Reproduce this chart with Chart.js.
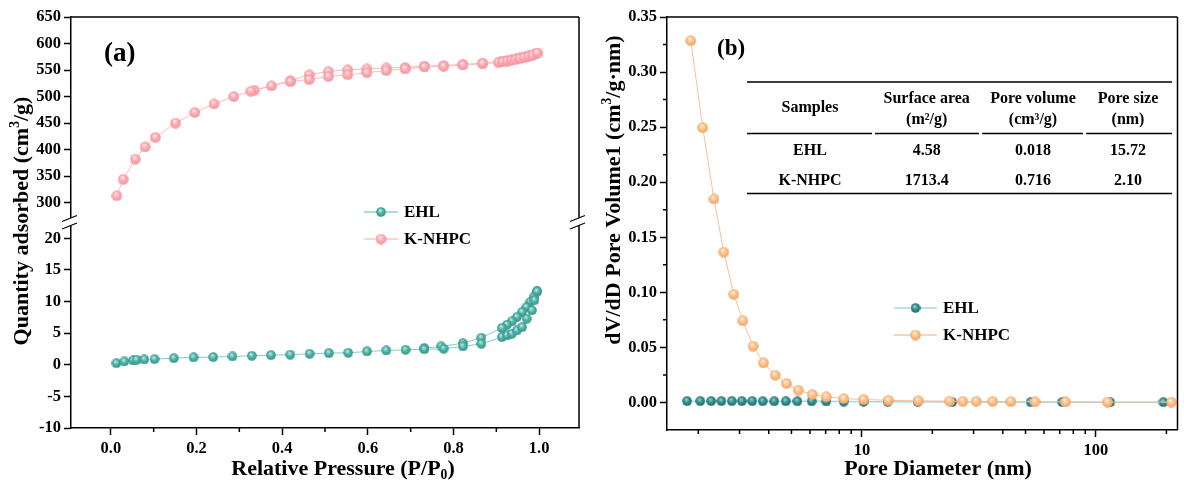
<!DOCTYPE html>
<html>
<head>
<meta charset="utf-8">
<script src="https://cdn.jsdelivr.net/npm/chart.js@4.4.1/dist/chart.umd.min.js"></script>
<style>
html, body { margin: 0; padding: 0; background: #fff; }
#wrap { position: relative; width: 1184px; height: 482px; overflow: hidden; background: #fff; }
canvas { position: absolute; top: 0; }
#chartA { left: 0; }
#chartB { left: 590px; }
</style>
</head>
<body>
<div id="wrap">
  <canvas id="chartA" width="590" height="482"></canvas>
  <canvas id="chartB" width="594" height="482"></canvas>
</div>
<script>
const FONT = '"Liberation Serif", "Times New Roman", serif';

// (a) N2 adsorption-desorption isotherms
const ehlAdsP = [0.013, 0.0315, 0.052, 0.06, 0.078, 0.102, 0.147, 0.193, 0.239, 0.284, 0.329, 0.374, 0.419, 0.464, 0.509, 0.554, 0.598, 0.643, 0.688, 0.732, 0.777, 0.822, 0.865, 0.913, 0.925, 0.936, 0.948, 0.96, 0.971, 0.983, 0.989, 0.995];
const ehlAdsQ = [0.25, 0.52, 0.68, 0.79, 0.84, 0.89, 1.04, 1.16, 1.2, 1.31, 1.42, 1.52, 1.6, 1.74, 1.84, 1.9, 2.1, 2.26, 2.37, 2.45, 2.53, 2.9, 3.32, 4.37, 4.64, 4.9, 5.43, 5.95, 7.28, 8.6, 10.2, 11.6];
const ehlDesP = [0.995, 0.989, 0.979, 0.97, 0.96, 0.948, 0.936, 0.925, 0.913, 0.865, 0.822, 0.771, 0.732];
const ehlDesQ = [11.6, 10.85, 9.9, 9.1, 8.32, 7.53, 6.85, 6.33, 5.8, 4.27, 3.42, 2.9, 2.63];

const knhpcAdsP = [0.014, 0.029, 0.057, 0.080, 0.104, 0.151, 0.196, 0.241, 0.287, 0.327, 0.375, 0.419, 0.463, 0.508, 0.553, 0.598, 0.643, 0.687, 0.732, 0.777, 0.822, 0.868, 0.905, 0.915, 0.925, 0.935, 0.945, 0.955, 0.965, 0.975, 0.985, 0.995];
const knhpcAdsQ = [313, 344, 382, 405, 423, 450, 470, 486, 500, 510, 520, 528, 532, 538, 541, 545, 549, 552, 556, 557, 559.5, 562, 564.5, 566, 567, 568.5, 570, 571.5, 573.5, 575.5, 578, 582];
const knhpcDesP = [0.995, 0.985, 0.975, 0.965, 0.955, 0.945, 0.935, 0.925, 0.91, 0.868, 0.822, 0.777, 0.732, 0.687, 0.643, 0.598, 0.553, 0.508, 0.463, 0.419, 0.335];
const knhpcDesQ = [582, 579, 577, 575, 573, 571, 569.5, 568, 566, 563, 560.5, 558.5, 557.5, 555, 554, 552, 550.5, 547.3, 541, 530, 512];

// (b) pore size distribution
const ehlPoreD = [1.79, 2.04, 2.27, 2.51, 2.78, 3.07, 3.40, 3.77, 4.22, 4.73, 5.30, 6.10, 7.04, 8.36, 10.17, 12.9, 17.3, 24.3, 52.6, 71.7, 115, 194];
const ehlPoreV = [0.0012, 0.0012, 0.0012, 0.0012, 0.0012, 0.0012, 0.0012, 0.0011, 0.0011, 0.0011, 0.001, 0.001, 0.0009, 0.0008, 0.0007, 0.0006, 0.0005, 0.0004, 0.0003, 0.0003, 0.0002, 0.0002];
const knhpcPoreD = [1.858, 2.089, 2.333, 2.57, 2.836, 3.097, 3.427, 3.80, 4.263, 4.76, 5.35, 6.14, 7.04, 8.36, 10.17, 12.98, 17.4, 23.7, 27.0, 30.8, 36.2, 43.3, 54.9, 74.1, 112, 210];
const knhpcPoreV = [0.3285, 0.2496, 0.1848, 0.1366, 0.0982, 0.0742, 0.0512, 0.036, 0.0248, 0.0173, 0.0112, 0.0073, 0.0051, 0.0036, 0.0027, 0.002, 0.0015, 0.0012, 0.001, 0.001, 0.001, 0.0008, 0.0006, 0.0005, 0.0004, 0.0003];

// ticks
const xTicksA = [0, 0.2, 0.4, 0.6, 0.8, 1.0];
const xMinorA = [0.1, 0.3, 0.5, 0.7, 0.9];
const yTopTicks = [300, 350, 400, 450, 500, 550, 600, 650];
const yBotTicks = [-10, -5, 0, 5, 10, 15, 20];
const xMajorB = [10, 100];
const xMinorB = [2, 3, 4, 5, 6, 7, 8, 9, 20, 30, 40, 50, 60, 70, 80, 90, 200];
const yTicksB = [0, 0.05, 0.10, 0.15, 0.20, 0.25, 0.30, 0.35];
const yMinorB = [0.025, 0.075, 0.125, 0.175, 0.225, 0.275, 0.325];

// table in (b)
const tableHead = [['Samples'], ['Surface area', '(m\u00b2/g)'], ['Pore volume', '(cm\u00b3/g)'], ['Pore size', '(nm)']];
const tableRows = [['EHL', '4.58', '0.018', '15.72'], ['K-NHPC', '1713.4', '0.716', '2.10']];

const pts = (xs, ys) => xs.map((x, i) => ({ x: x, y: ys[i] }));

function ball(d, light, base, dark) {
    const c = document.createElement('canvas');
    c.width = d; c.height = d;
    const g = c.getContext('2d');
    const r = d / 2;
    const grad = g.createRadialGradient(r * 0.8, r * 0.6, 0, r, r, r);
    grad.addColorStop(0, light);
    grad.addColorStop(0.5, base);
    grad.addColorStop(1, dark);
    g.fillStyle = grad;
    g.beginPath();
    g.arc(r, r, r - 0.2, 0, Math.PI * 2);
    g.fill();
    return c;
}

const ballEhlA = ball(10, '#d4f2ee', '#52b6aa', '#2e8f84');
const ballKnA = ball(11, '#fff2f3', '#ffadb4', '#f3939d');
const ballEhlB = ball(10, '#a8dcda', '#36928f', '#1a6b6b');
const ballKnB = ball(11, '#fff4e8', '#ffc38f', '#f0a362');

const tickFont = { family: FONT, size: 16.5, weight: 'bold' };

function richText(ctx, parts, cx, cy, size) {
    const widths = parts.map(p => {
        ctx.font = 'bold ' + (p[1] ? size * 0.62 : size) + 'px ' + FONT;
        return ctx.measureText(p[0]).width;
    });
    let x = cx - widths.reduce((a, b) => a + b, 0) / 2;
    ctx.textBaseline = 'middle';
    ctx.textAlign = 'left';
    parts.forEach((p, i) => {
        ctx.font = 'bold ' + (p[1] ? size * 0.62 : size) + 'px ' + FONT;
        const dy = p[1] === 1 ? -size * 0.3 : (p[1] === -1 ? size * 0.3 : 0);
        ctx.fillText(p[0], x, cy + dy);
        x += widths[i];
    });
}

function legendRow(ctx, x0, x1, y, lineColor, img, label) {
    ctx.strokeStyle = lineColor;
    ctx.lineWidth = 1.5;
    ctx.beginPath();
    ctx.moveTo(x0, y); ctx.lineTo(x1, y);
    ctx.stroke();
    ctx.drawImage(img, (x0 + x1) / 2 - img.width / 2, y - img.height / 2);
    ctx.fillStyle = '#000';
    ctx.font = 'bold 17px ' + FONT;
    ctx.textAlign = 'left';
    ctx.textBaseline = 'middle';
    ctx.fillText(label, x1 + 6, y + 1);
}

function axisStyle(extra) {
    return Object.assign({
        grid: { drawOnChartArea: false, tickLength: 7, tickColor: '#000', tickWidth: 1.5 },
        border: { color: '#000', width: 1.5 },
    }, extra);
}

//panel (a) decorations: frame, break marks, minor ticks, titles, legend
const decorA = {
    id: 'decorA',
    afterDraw(chart) {
        const ctx = chart.ctx;
        const a = chart.chartArea;
        const sx = chart.scales.x;
        const yb = chart.scales.yTop.bottom;
        ctx.save();
        ctx.strokeStyle = '#000';
        ctx.lineWidth = 1.5;
        ctx.beginPath();
        ctx.moveTo(a.left, a.top); ctx.lineTo(a.right, a.top);
        ctx.moveTo(a.right, a.top); ctx.lineTo(a.right, a.bottom);
        ctx.stroke();
        xMinorA.forEach(v => {
            const px = sx.getPixelForValue(v);
            ctx.beginPath();
            ctx.moveTo(px, a.bottom); ctx.lineTo(px, a.bottom + 4);
            ctx.stroke();
        });
        // axis break
        ctx.fillStyle = '#fff';
        [a.left, a.right].forEach(x => {
            ctx.fillRect(x - 2, yb - 4.6, 4, 7.5);
        });
        ctx.lineWidth = 1.2;
        [a.left, a.right].forEach(x => {
            ctx.beginPath();
            ctx.moveTo(x - 9, yb - 1); ctx.lineTo(x + 6, yb - 7);
            ctx.moveTo(x - 9, yb + 6.5); ctx.lineTo(x + 6, yb + 0.5);
            ctx.stroke();
        });
        ctx.fillStyle = '#000';
        richText(ctx, [['Relative Pressure (P/P', 0], ['0', -1], [')', 0]], 343, 469, 22);
        ctx.save();
        ctx.translate(22, 221);
        ctx.rotate(-Math.PI / 2);
        richText(ctx, [['Quantity adsorbed (cm', 0], ['3', 1], ['/g)', 0]], 0, 0, 22);
        ctx.restore();
        ctx.font = 'bold 27px ' + FONT;
        ctx.textAlign = 'left';
        ctx.textBaseline = 'middle';
        ctx.fillText('(a)', 104, 54);
        legendRow(ctx, 364, 398, 212, '#8fd0c7', ballEhlA, 'EHL');
        legendRow(ctx, 364, 398, 239, '#ffc4c9', ballKnA, 'K-NHPC');
        ctx.restore();
    }
};

//panel (b) decorations: frame, minor ticks, table, titles, legend
const decorB = {
    id: 'decorB',
    afterDraw(chart) {
        const ctx = chart.ctx;
        const a = chart.chartArea;
        const sx = chart.scales.x;
        const sy = chart.scales.y;
        ctx.save();
        ctx.strokeStyle = '#000';
        ctx.lineWidth = 1.5;
        ctx.beginPath();
        ctx.moveTo(a.left, a.top); ctx.lineTo(a.right, a.top);
        ctx.moveTo(a.right, a.top); ctx.lineTo(a.right, a.bottom);
        xMinorB.forEach(v => {
            const px = sx.getPixelForValue(v);
            ctx.moveTo(px, a.bottom); ctx.lineTo(px, a.bottom + 4);
        });
        yMinorB.forEach(v => {
            const py = sy.getPixelForValue(v);
            ctx.moveTo(a.left, py); ctx.lineTo(a.left - 4, py);
        });
        ctx.stroke();

        // table
        const colX = [220, 336.7, 443, 538];
        const segs = [[157, 282], [285, 389], [392, 493], [496, 582]];
        ctx.lineWidth = 1.3;
        ctx.beginPath();
        ctx.moveTo(157, 82); ctx.lineTo(582, 82);
        segs.forEach(s => { ctx.moveTo(s[0], 133.5); ctx.lineTo(s[1], 133.5); });
        ctx.moveTo(157, 193.5); ctx.lineTo(582, 193.5);
        ctx.stroke();
        ctx.fillStyle = '#000';
        ctx.font = 'bold 16px ' + FONT;
        ctx.textAlign = 'center';
        ctx.textBaseline = 'middle';
        tableHead.forEach((h, i) => {
            if (h.length === 1) {
                ctx.fillText(h[0], colX[i], 108);
            } else {
                ctx.fillText(h[0], colX[i], 98.5);
                ctx.fillText(h[1], colX[i], 119.5);
            }
        });
        tableRows.forEach((r, j) => {
            r.forEach((c, i) => ctx.fillText(c, colX[i], 150.5 + j * 30));
        });

        richText(ctx, [['Pore Diameter (nm)', 0]], 348, 469, 22);
        ctx.save();
        ctx.translate(24, 190);
        ctx.rotate(-Math.PI / 2);
        richText(ctx, [['dV/dD Pore Volume1 (cm', 0], ['3', 1], ['/g\u00b7nm)', 0]], 0, 0, 22);
        ctx.restore();
        ctx.fillStyle = '#000';
        ctx.font = 'bold 23px ' + FONT;
        ctx.textAlign = 'left';
        ctx.textBaseline = 'middle';
        ctx.fillText('(b)', 127, 49);
        legendRow(ctx, 304, 347, 308, '#a9d6e5', ballEhlB, 'EHL');
        legendRow(ctx, 304, 347, 335, '#f4c9a6', ballKnB, 'K-NHPC');
        ctx.restore();
    }
};

const ctxA = document.getElementById('chartA');
const ctxB = document.getElementById('chartB');

//chart (a) isotherms with broken y axis
new Chart(ctxA, {
    type: 'scatter',
    data: {
        datasets: [{
            label: 'EHL',
            data: pts(ehlAdsP, ehlAdsQ),
            yAxisID: 'yBot',
            showLine: true,
            borderColor: '#86cbc2',
            borderWidth: 1,
            pointStyle: ballEhlA,
            pointRadius: 5
        }, {
            label: 'EHL desorption',
            data: pts(ehlDesP, ehlDesQ),
            yAxisID: 'yBot',
            showLine: true,
            borderColor: '#86cbc2',
            borderWidth: 1,
            pointStyle: ballEhlA,
            pointRadius: 5
        }, {
            label: 'K-NHPC',
            data: pts(knhpcAdsP, knhpcAdsQ),
            yAxisID: 'yTop',
            showLine: true,
            borderColor: '#ffb8be',
            borderWidth: 1,
            pointStyle: ballKnA,
            pointRadius: 5
        }, {
            label: 'K-NHPC desorption',
            data: pts(knhpcDesP, knhpcDesQ),
            yAxisID: 'yTop',
            showLine: true,
            borderColor: '#ffb8be',
            borderWidth: 1,
            pointStyle: ballKnA,
            pointRadius: 5
        }]
    },
    options: {
        responsive: false,
        animation: false,
        events: [],
        layout: { padding: { left: 0, top: 17, right: 11, bottom: 0 } },
        plugins: { legend: { display: false }, tooltip: { enabled: false } },
        scales: {
            x: axisStyle({
                type: 'linear',
                min: -0.093,
                max: 1.093,
                afterBuildTicks: s => { s.ticks = xTicksA.map(v => ({ value: v })); },
                afterFit: s => { s.height = 54; },
                ticks: { font: tickFont, color: '#000', padding: 4, maxRotation: 0, autoSkip: false, callback: v => v.toFixed(1) }
            }),
            yBot: axisStyle({
                type: 'linear',
                position: 'left',
                stack: 'left',
                stackWeight: 1,
                min: -10,
                max: 22.5,
                afterBuildTicks: s => { s.ticks = yBotTicks.map(v => ({ value: v })); },
                afterFit: s => { s.width = 71; },
                ticks: { font: tickFont, color: '#000', padding: 3, autoSkip: false, callback: v => String(v) }
            }),
            yTop: axisStyle({
                type: 'linear',
                position: 'left',
                stack: 'left',
                stackWeight: 1,
                min: 262.5,
                max: 650,
                afterBuildTicks: s => { s.ticks = yTopTicks.map(v => ({ value: v })); },
                afterFit: s => { s.width = 71; },
                ticks: { font: tickFont, color: '#000', padding: 3, autoSkip: false, callback: v => String(v) }
            })
        }
    },
    plugins: [decorA]
});

//chart (b) pore size distribution, log x
new Chart(ctxB, {
    type: 'scatter',
    data: {
        datasets: [{
            label: 'K-NHPC',
            data: pts(knhpcPoreD, knhpcPoreV),
            showLine: true,
            borderColor: '#f2c29c',
            borderWidth: 1,
            pointStyle: ballKnB,
            pointRadius: 5
        }, {
            label: 'EHL',
            data: pts(ehlPoreD, ehlPoreV),
            showLine: true,
            borderColor: '#a9d6e5',
            borderWidth: 1.5,
            pointStyle: ballEhlB,
            pointRadius: 5
        }]
    },
    options: {
        responsive: false,
        animation: false,
        events: [],
        layout: { padding: { left: 0, top: 17, right: 3, bottom: 0 } },
        plugins: { legend: { display: false }, tooltip: { enabled: false } },
        scales: {
            x: axisStyle({
                type: 'logarithmic',
                min: 1.47,
                max: 223,
                afterBuildTicks: s => { s.ticks = xMajorB.map(v => ({ value: v })); },
                afterFit: s => { s.height = 52; },
                ticks: { font: tickFont, color: '#000', padding: 4, maxRotation: 0, autoSkip: false, callback: v => String(v) }
            }),
            y: axisStyle({
                type: 'linear',
                min: -0.025,
                max: 0.35,
                afterBuildTicks: s => { s.ticks = yTicksB.map(v => ({ value: v })); },
                afterFit: s => { s.width = 77; },
                ticks: { font: tickFont, color: '#000', padding: 3, autoSkip: false, callback: v => v.toFixed(2) }
            })
        }
    },
    plugins: [decorB]
});
</script>
</body>
</html>
